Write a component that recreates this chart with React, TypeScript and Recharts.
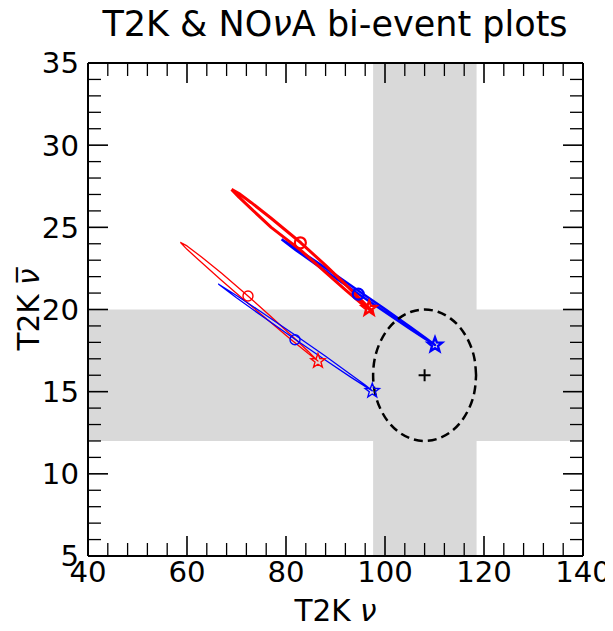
import React from 'react';
import { ComposedChart, Line, Scatter, XAxis, YAxis, ReferenceArea } from 'recharts';

// ---------- axis ticks ----------
const xMajorTicks = [40, 60, 80, 100, 120, 140];
const xMinorTicks = [44, 48, 52, 56, 64, 68, 72, 76, 84, 88, 92, 96, 104, 108, 112, 116, 124, 128, 132, 136];
const yMajorTicks = [5, 10, 15, 20, 25, 30, 35];
const yMinorTicks = [6, 7, 8, 9, 11, 12, 13, 14, 16, 17, 18, 19, 21, 22, 23, 24, 26, 27, 28, 29, 31, 32, 33, 34];

// ---------- measured bands (T2K nu / nubar 1-sigma) ----------
const t2kNuBand = [97.6, 118.5];
const t2kNubarBand = [12, 20];
const measuredPoint: [number, number][] = [[108, 16]];

// ---------- bi-event contours ----------
const thickRedContour: [number, number][] = [
  [69.0, 27.31], [70.5, 27.06], [73, 26.5], [77, 25.55], [83, 24.06], [88, 22.68], [92, 21.53], [95.5, 20.48],
  [97.4, 19.9], [95.5, 20.3], [92, 21.2], [88, 22.26], [83, 23.6], [77, 25.0], [73, 26.12], [70.5, 26.84], [69.0, 27.31],
];
const thickBlueContour: [number, number][] = [
  [79.1, 24.27], [82, 23.73], [86, 22.93], [90, 22.11], [95, 21.07], [100, 20.03], [105, 18.97], [108, 18.32],
  [110.1, 17.84], [108, 18.24], [105, 18.83], [100, 19.85], [95, 20.87], [90, 21.91], [86, 22.75], [82, 23.61], [79.1, 24.27],
];
const thinRedContour: [number, number][] = [
  [58.65, 24.09], [60, 23.87], [63, 23.18], [67, 22.2], [72.32, 20.82], [77, 19.56], [81, 18.45], [84.5, 17.45],
  [86.46, 16.86], [84.5, 17.32], [81, 18.18], [77, 19.19], [72.32, 20.38], [67, 21.77], [63, 22.84], [60, 23.66], [58.65, 24.09],
];
const thinBlueContour: [number, number][] = [
  [66.32, 21.55], [70, 20.85], [75, 19.85], [81.82, 18.445], [88, 17.15], [93, 16.06], [96, 15.4],
  [97.43, 15.05], [96, 15.32], [93, 15.9], [88, 16.91], [81.82, 18.185], [75, 19.63], [70, 20.71], [66.32, 21.55],
];
const measuredEllipse: [number, number][] = [
  [118.4, 16], [118.05, 17.04], [117.0, 18.0], [115.35, 18.83], [113.2, 19.46], [110.69, 19.86], [108, 20],
  [105.31, 19.86], [102.8, 19.46], [100.65, 18.83], [99.0, 18.0], [97.95, 17.04], [97.6, 16],
  [97.95, 14.96], [99.0, 14.0], [100.65, 13.17], [102.8, 12.54], [105.31, 12.14], [108, 12],
  [110.69, 12.14], [113.2, 12.54], [115.35, 13.17], [117.0, 14.0], [118.05, 14.96], [118.4, 16],
];

// ---------- markers ----------
const thickRedCircle: [number, number][] = [[82.9, 24.06]];
const thickBlueCircle: [number, number][] = [[94.6, 20.94]];
const thinRedCircle: [number, number][] = [[72.32, 20.82]];
const thinBlueCircle: [number, number][] = [[81.82, 18.16]];
const thickRedStar: [number, number][] = [[96.8, 20.07]];
const thickBlueStar: [number, number][] = [[110.1, 17.84]];
const thinRedStar: [number, number][] = [[86.46, 16.86]];
const thinBlueStar: [number, number][] = [[97.43, 15.05]];

const pts = (a: [number, number][]) => a.map(([x, y]) => ({ x, y }));

const RED = '#ff0000';
const BLUE = '#0000ff';
const FONT = 'DejaVu Sans';

const openCircle = (color: string, r: number, sw: number) => (p: any) => (
  <circle cx={p.cx} cy={p.cy} r={r} fill="none" stroke={color} strokeWidth={sw} />
);

const openStar = (color: string, R: number, sw: number) => (p: any) => {
  const rr = R * 0.42;
  let d = '';
  for (let k = 0; k < 10; k++) {
    const ang = (-90 + k * 36) * Math.PI / 180;
    const rad = k % 2 === 0 ? R : rr;
    d += (k === 0 ? 'M' : 'L') + (p.cx + rad * Math.cos(ang)).toFixed(2) + ',' + (p.cy + rad * Math.sin(ang)).toFixed(2);
  }
  d += 'Z';
  return <path d={d} fill="none" stroke={color} strokeWidth={sw} strokeLinejoin="miter" />;
};

const plusMark = (p: any) => (
  <path d={`M${p.cx - 6},${p.cy}H${p.cx + 6}M${p.cx},${p.cy - 6}V${p.cy + 6}`} stroke="#000" strokeWidth={2} fill="none" />
);

const EmptyTick = () => <g />;

const tickFont = { fontFamily: FONT, fontSize: 29.2, fill: '#000' };
const majorLine = { stroke: '#000', strokeWidth: 1.6 };
const minorLine = { stroke: '#000', strokeWidth: 1.3 };
const frameLine = { stroke: '#000', strokeWidth: 2 };

const W = 605;
const H = 615;

export default function App() {
  const common = { xAxisId: 'b', yAxisId: 'l', isAnimationActive: false } as const;
  const xTickAxis = (id: string, orientation: 'top' | 'bottom', ticks: number[], size: number, frame: boolean) => (
    <XAxis key={id} xAxisId={id} type="number" dataKey="x" domain={[40, 140]} allowDataOverflow ticks={ticks} interval={0}
      orientation={orientation} mirror height={1} tick={EmptyTick} tickSize={size}
      axisLine={frame ? frameLine : false} tickLine={size > 15 ? majorLine : minorLine} />
  );
  const yTickAxis = (id: string, orientation: 'left' | 'right', ticks: number[], size: number, frame: boolean) => (
    <YAxis key={id} yAxisId={id} type="number" dataKey="y" domain={[5, 35]} allowDataOverflow ticks={ticks} interval={0}
      orientation={orientation} mirror width={1} tick={EmptyTick} tickSize={size}
      axisLine={frame ? frameLine : false} tickLine={size > 15 ? majorLine : minorLine} />
  );
  return (
    <div style={{ position: 'relative', width: W, height: H }}>
      <ComposedChart width={W} height={H} margin={{ top: 55, right: 30, bottom: 7, left: 20 }}>
        {/* label axes */}
        <XAxis xAxisId="b" type="number" dataKey="x" domain={[40, 140]} allowDataOverflow ticks={xMajorTicks}
          interval={0} orientation="bottom" height={60} tickLine={false} axisLine={false} tickSize={0} tickMargin={5}
          tick={tickFont} />
        <YAxis yAxisId="l" type="number" dataKey="y" domain={[5, 35]} allowDataOverflow ticks={yMajorTicks}
          interval={0} orientation="left" width={60} tickLine={false} axisLine={false} tickSize={0} tickMargin={9}
          tick={tickFont} />
        {/* inward tick axes (mirrored) */}
        {xTickAxis('bM', 'bottom', xMajorTicks, 20, true)}
        {xTickAxis('bm', 'bottom', xMinorTicks, 12, false)}
        {xTickAxis('tM', 'top', xMajorTicks, 20, true)}
        {xTickAxis('tm', 'top', xMinorTicks, 12, false)}
        {yTickAxis('lM', 'left', yMajorTicks, 20, true)}
        {yTickAxis('lm', 'left', yMinorTicks, 12, false)}
        {yTickAxis('rM', 'right', yMajorTicks, 20, true)}
        {yTickAxis('rm', 'right', yMinorTicks, 12, false)}

        {/* measured bands */}
        <ReferenceArea xAxisId="b" yAxisId="l" x1={t2kNuBand[0]} x2={t2kNuBand[1]} y1={5} y2={35}
          fill="#d9d9d9" fillOpacity={1} stroke="none" ifOverflow="hidden" />
        <ReferenceArea xAxisId="b" yAxisId="l" x1={40} x2={140} y1={t2kNubarBand[0]} y2={t2kNubarBand[1]}
          fill="#d9d9d9" fillOpacity={1} stroke="none" ifOverflow="hidden" />

        {/* contours */}
        <Line {...common} data={pts(thinRedContour)} dataKey="y" type="linear" dot={false} stroke={RED} strokeWidth={1.3} strokeLinejoin="round" />
        <Line {...common} data={pts(thinBlueContour)} dataKey="y" type="linear" dot={false} stroke={BLUE} strokeWidth={1.3} strokeLinejoin="round" />
        <Line {...common} data={pts(thickBlueContour)} dataKey="y" type="linear" dot={false} stroke={BLUE} strokeWidth={2.4} strokeLinejoin="round" />
        <Line {...common} data={pts(thickRedContour)} dataKey="y" type="linear" dot={false} stroke={RED} strokeWidth={3} strokeLinejoin="round" />
        <Line {...common} data={pts(measuredEllipse)} dataKey="y" type="natural" dot={false} stroke="#000" strokeWidth={2.5} strokeDasharray="9 5" />

        {/* markers */}
        <Scatter {...common} data={pts(thinRedCircle)} dataKey="y" shape={openCircle(RED, 5, 1.4)} />
        <Scatter {...common} data={pts(thinBlueCircle)} dataKey="y" shape={openCircle(BLUE, 5, 1.4)} />
        <Scatter {...common} data={pts(thickRedCircle)} dataKey="y" shape={openCircle(RED, 5.5, 2.2)} />
        <Scatter {...common} data={pts(thickBlueCircle)} dataKey="y" shape={openCircle(BLUE, 5.5, 2.2)} />
        <Scatter {...common} data={pts(thinRedStar)} dataKey="y" shape={openStar(RED, 7.5, 1.4)} />
        <Scatter {...common} data={pts(thinBlueStar)} dataKey="y" shape={openStar(BLUE, 7.5, 1.4)} />
        <Scatter {...common} data={pts(thickRedStar)} dataKey="y" shape={openStar(RED, 7.5, 2.4)} />
        <Scatter {...common} data={pts(thickBlueStar)} dataKey="y" shape={openStar(BLUE, 7.5, 2.4)} />
        <Scatter {...common} data={pts(measuredPoint)} dataKey="y" shape={plusMark} />
      </ComposedChart>

      <svg width={W} height={H} style={{ position: 'absolute', left: 0, top: 0, pointerEvents: 'none', overflow: 'visible' }}>
        <text x={327} y={28} textAnchor="middle" fontFamily={FONT} fontSize={35} fill="#000">
          T2K &amp; NO<tspan fontStyle="italic">ν</tspan>A bi-event plots
        </text>
        <text x={327.5} y={613} textAnchor="middle" fontFamily={FONT} fontSize={29.5} fill="#000">
          T2K <tspan fontStyle="italic">ν</tspan>
        </text>
        <text transform="translate(31,301.5) rotate(-90)" x={0} y={0} textAnchor="middle" fontFamily={FONT} fontSize={29.5} fill="#000">
          T2K <tspan fontStyle="italic">{'ν\u0305'}</tspan>
        </text>
      </svg>
    </div>
  );
}
